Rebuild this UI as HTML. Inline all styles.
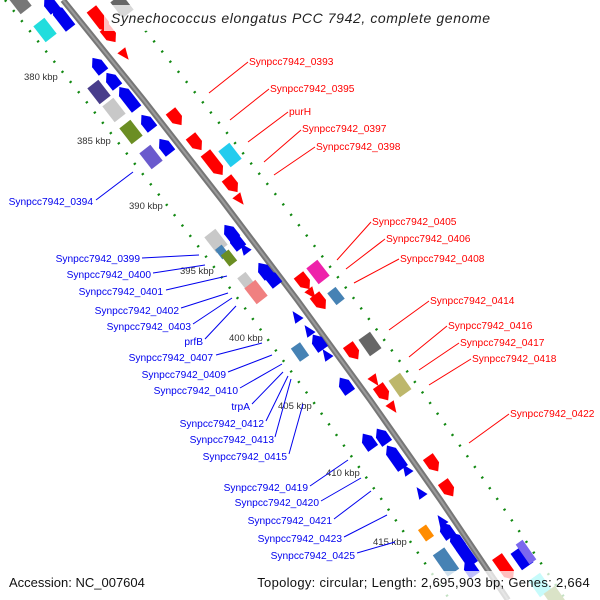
<!DOCTYPE html>
<html><head><meta charset="utf-8"><style>
html,body{margin:0;padding:0;background:#fff}
svg{display:block}
text{font-family:"Liberation Sans","DejaVu Sans",sans-serif}
</style></head><body>
<svg width="600" height="600" viewBox="0 0 600 600" xmlns="http://www.w3.org/2000/svg">
<defs>
<polygon id="fL" points="-14,-6 7,-6 14,0 7,6 -14,6"/>
<polygon id="fS" points="-9,-6 2,-6 9,0 2,6 -9,6"/>
<polygon id="rL" points="14,-6 -7,-6 -14,0 -7,6 14,6"/>
<polygon id="rS" points="9,-6 -2,-6 -9,0 -2,6 9,6"/>
<rect id="bx" x="-10" y="-7" width="20" height="14"/>
<polygon id="tF" points="-6,-5 6,0 -6,5"/>
<polygon id="tR" points="6,-5 -6,0 6,5"/>
</defs>
<g fill="none" stroke="#118811" stroke-width="2.5" stroke-dasharray="2 11">
<polyline points="5,0 85,100 163,200 239,300 312,400 382,500 450,600"/>
<polyline points="121,0 201,100 280,200 355,300 428,400 498,500 566,600"/>
</g>
<polyline points="63,0 143.7,100 221.8,200 297.3,300 370.2,400 440.5,500 508,600" fill="none" stroke="#777" stroke-width="6"/>
<polyline points="63,0 143.7,100 221.8,200 297.3,300 370.2,400 440.5,500 508,600" fill="none" stroke="#9a9a9a" stroke-width="2"/>

<g stroke="none">
<g transform="translate(20,2) rotate(52)"><use href="#bx" fill="#777"/></g>
<g transform="translate(50,4) rotate(52)"><use href="#rS" fill="#0000ee"/></g>
<g transform="translate(45,30) rotate(52)"><use href="#bx" fill="#22dddd"/></g>
<g transform="translate(62,17) rotate(52)"><use href="#rL" fill="#0000ee"/></g>
<g transform="translate(98,65) rotate(52)"><use href="#rS" fill="#0000ee"/></g>
<g transform="translate(112,80) rotate(52)"><use href="#rS" fill="#0000ee"/></g>
<g transform="translate(99,92) rotate(52)"><use href="#bx" fill="#483d8b"/></g>
<g transform="translate(128,98) rotate(52)"><use href="#rL" fill="#0000ee"/></g>
<g transform="translate(114,110) rotate(52)"><use href="#bx" fill="#c8c8c8"/></g>
<g transform="translate(147,122) rotate(52)"><use href="#rS" fill="#0000ee"/></g>
<g transform="translate(131,132) rotate(52)"><use href="#bx" fill="#6b8e23"/></g>
<g transform="translate(165,146) rotate(52)"><use href="#rS" fill="#0000ee"/></g>
<g transform="translate(151,157) rotate(52)"><use href="#bx" fill="#6a5acd"/></g>
<g transform="translate(216,241) rotate(52)"><use href="#bx" fill="#c8c8c8"/></g>
<g transform="translate(230,232) rotate(52)"><use href="#rS" fill="#0000ee"/></g>
<g transform="translate(236,241) rotate(52)"><use href="#rS" fill="#0000ee"/></g>
<g transform="translate(244,248) rotate(52)"><use href="#tR" fill="#0000ee"/></g>
<g transform="translate(222,252) rotate(52) scale(0.6)"><use href="#bx" fill="#4682b4"/></g>
<g transform="translate(229,258) rotate(52) scale(0.7)"><use href="#bx" fill="#6b8e23"/></g>
<g transform="translate(246,281) rotate(52) scale(0.75)"><use href="#bx" fill="#c8c8c8"/></g>
<g transform="translate(256,292) rotate(52)"><use href="#bx" fill="#f08080"/></g>
<g transform="translate(264,270) rotate(52)"><use href="#rS" fill="#0000ee"/></g>
<g transform="translate(272,278) rotate(52)"><use href="#rS" fill="#0000ee"/></g>
<g transform="translate(296,316) rotate(55)"><use href="#tR" fill="#0000ee"/></g>
<g transform="translate(308,330) rotate(55)"><use href="#tR" fill="#0000ee"/></g>
<g transform="translate(318,342) rotate(55)"><use href="#rS" fill="#0000ee"/></g>
<g transform="translate(326,354) rotate(55)"><use href="#tR" fill="#0000ee"/></g>
<g transform="translate(300,352) rotate(55) scale(0.8)"><use href="#bx" fill="#4682b4"/></g>
<g transform="translate(345,385) rotate(55)"><use href="#rS" fill="#0000ee"/></g>
<g transform="translate(368,441) rotate(55)"><use href="#rS" fill="#0000ee"/></g>
<g transform="translate(382,436) rotate(55)"><use href="#rS" fill="#0000ee"/></g>
<g transform="translate(395,457) rotate(55)"><use href="#rL" fill="#0000ee"/></g>
<g transform="translate(406,469) rotate(55)"><use href="#tR" fill="#0000ee"/></g>
<g transform="translate(420,492) rotate(55)"><use href="#tR" fill="#0000ee"/></g>
<g transform="translate(426,533) rotate(55) scale(0.7)"><use href="#bx" fill="#ff8c00"/></g>
<g transform="translate(441,520) rotate(55)"><use href="#tR" fill="#0000ee"/></g>
<g transform="translate(446,530) rotate(55)"><use href="#rS" fill="#0000ee"/></g>
<g transform="translate(456,540) rotate(55)"><use href="#rS" fill="#0000ee"/></g>
<g transform="translate(465,553) rotate(55)"><use href="#rL" fill="#0000ee"/></g>
<g transform="translate(470,568) rotate(55)"><use href="#rS" fill="#0000ee"/></g>
<g transform="translate(446,562) rotate(55) scale(1.3,1)"><use href="#bx" fill="#4682b4"/></g>
</g>
<g>
<g transform="translate(122,6) rotate(52)"><use href="#bx" fill="#666"/></g>
<g transform="translate(100,20) rotate(52)"><use href="#fL" fill="#ff0000"/></g>
<g transform="translate(110,35) rotate(52)"><use href="#fS" fill="#ff0000"/></g>
<g transform="translate(125,55) rotate(52)"><use href="#tF" fill="#ff0000"/></g>
<g transform="translate(176,118) rotate(52)"><use href="#fS" fill="#ff0000"/></g>
<g transform="translate(196,143) rotate(52)"><use href="#fS" fill="#ff0000"/></g>
<g transform="translate(230,155) rotate(52)"><use href="#bx" fill="#22ccee"/></g>
<g transform="translate(214,164) rotate(52)"><use href="#fL" fill="#ff0000"/></g>
<g transform="translate(232,185) rotate(52)"><use href="#fS" fill="#ff0000"/></g>
<g transform="translate(240,200) rotate(52)"><use href="#tF" fill="#ff0000"/></g>
<g transform="translate(318,272) rotate(52)"><use href="#bx" fill="#ee22aa"/></g>
<g transform="translate(304,282) rotate(52)"><use href="#fS" fill="#ff0000"/></g>
<g transform="translate(312,294) rotate(52)"><use href="#tF" fill="#ff0000"/></g>
<g transform="translate(320,302) rotate(52)"><use href="#fS" fill="#ff0000"/></g>
<g transform="translate(336,296) rotate(52) scale(0.75)"><use href="#bx" fill="#4682b4"/></g>
<g transform="translate(353,352) rotate(55)"><use href="#fS" fill="#ff0000"/></g>
<g transform="translate(370,344) rotate(55)"><use href="#bx" fill="#666"/></g>
<g transform="translate(375,381) rotate(55)"><use href="#tF" fill="#ff0000"/></g>
<g transform="translate(383,393) rotate(55)"><use href="#fS" fill="#ff0000"/></g>
<g transform="translate(400,385) rotate(55)"><use href="#bx" fill="#bdb76b"/></g>
<g transform="translate(393,408) rotate(55)"><use href="#tF" fill="#ff0000"/></g>
<g transform="translate(433,464) rotate(55)"><use href="#fS" fill="#ff0000"/></g>
<g transform="translate(448,489) rotate(55)"><use href="#fS" fill="#ff0000"/></g>
<g transform="translate(505,568) rotate(55)"><use href="#fL" fill="#ff0000"/></g>
<g transform="translate(522,558) rotate(55)"><use href="#bx" fill="#0000ee"/></g>
<g transform="translate(526,552) rotate(55) scale(1.2,0.6)"><use href="#bx" fill="#7b68ee"/></g>
<g transform="translate(540,585) rotate(55)"><use href="#bx" fill="#22eeee"/></g>
<g transform="translate(555,598) rotate(55)"><use href="#bx" fill="#6b8e23"/></g>
</g>

<g font-size="9.5" fill="#333">
<text x="24" y="80">380 kbp</text>
<text x="77" y="144">385 kbp</text>
<text x="129" y="209">390 kbp</text>
<text x="180" y="274">395 kbp</text>
<text x="229" y="341">400 kbp</text>
<text x="278" y="409">405 kbp</text>
<text x="326" y="476">410 kbp</text>
<text x="373" y="545">415 kbp</text>
</g>

<g stroke="#0000ee" stroke-width="1">
<line x1="96" y1="200" x2="133" y2="172"/>
<line x1="142" y1="258" x2="199" y2="255"/>
<line x1="153" y1="273" x2="205" y2="265"/>
<line x1="166" y1="290" x2="227" y2="276"/>
<line x1="181" y1="308" x2="228" y2="293"/>
<line x1="193" y1="324" x2="232" y2="298"/>
<line x1="205" y1="339" x2="236" y2="306"/>
<line x1="216" y1="355" x2="262" y2="343"/>
<line x1="228" y1="372" x2="272" y2="355"/>
<line x1="240" y1="388" x2="282" y2="364"/>
<line x1="252" y1="404" x2="283" y2="372"/>
<line x1="266" y1="421" x2="288" y2="376"/>
<line x1="275" y1="437" x2="291" y2="379"/>
<line x1="289" y1="454" x2="303" y2="404"/>
<line x1="310" y1="486" x2="348" y2="460"/>
<line x1="321" y1="501" x2="361" y2="478"/>
<line x1="334" y1="519" x2="371" y2="491"/>
<line x1="344" y1="537" x2="387" y2="515"/>
<line x1="357" y1="553" x2="395" y2="542"/>
</g>
<g font-size="10.2" fill="#0000ee" text-anchor="end">
<text x="93" y="205">Synpcc7942_0394</text>
<text x="140" y="262">Synpcc7942_0399</text>
<text x="151" y="278">Synpcc7942_0400</text>
<text x="163" y="295">Synpcc7942_0401</text>
<text x="179" y="314">Synpcc7942_0402</text>
<text x="191" y="330">Synpcc7942_0403</text>
<text x="203" y="345">prfB</text>
<text x="213" y="361">Synpcc7942_0407</text>
<text x="226" y="378">Synpcc7942_0409</text>
<text x="238" y="394">Synpcc7942_0410</text>
<text x="250" y="410">trpA</text>
<text x="264" y="427">Synpcc7942_0412</text>
<text x="274" y="443">Synpcc7942_0413</text>
<text x="287" y="460">Synpcc7942_0415</text>
<text x="308" y="491">Synpcc7942_0419</text>
<text x="319" y="506">Synpcc7942_0420</text>
<text x="332" y="524">Synpcc7942_0421</text>
<text x="342" y="542">Synpcc7942_0423</text>
<text x="355" y="559">Synpcc7942_0425</text>
</g>

<g stroke="#ff0000" stroke-width="1">
<line x1="209" y1="93" x2="248" y2="62"/>
<line x1="230" y1="120" x2="269" y2="89"/>
<line x1="248" y1="142" x2="288" y2="112"/>
<line x1="264" y1="162" x2="301" y2="130"/>
<line x1="274" y1="175" x2="315" y2="147"/>
<line x1="337" y1="260" x2="371" y2="222"/>
<line x1="346" y1="269" x2="385" y2="239"/>
<line x1="354" y1="283" x2="399" y2="259"/>
<line x1="389" y1="330" x2="429" y2="301"/>
<line x1="409" y1="357" x2="447" y2="326"/>
<line x1="419" y1="370" x2="459" y2="343"/>
<line x1="429" y1="385" x2="471" y2="359"/>
<line x1="469" y1="443" x2="509" y2="414"/>
</g>
<g font-size="10.2" fill="#ff0000">
<text x="249" y="65">Synpcc7942_0393</text>
<text x="270" y="92">Synpcc7942_0395</text>
<text x="289" y="115">purH</text>
<text x="302" y="132">Synpcc7942_0397</text>
<text x="316" y="150">Synpcc7942_0398</text>
<text x="372" y="225">Synpcc7942_0405</text>
<text x="386" y="242">Synpcc7942_0406</text>
<text x="400" y="262">Synpcc7942_0408</text>
<text x="430" y="304">Synpcc7942_0414</text>
<text x="448" y="329">Synpcc7942_0416</text>
<text x="460" y="346">Synpcc7942_0417</text>
<text x="472" y="362">Synpcc7942_0418</text>
<text x="510" y="417">Synpcc7942_0422</text>
</g>

<rect x="104" y="5" width="392" height="26" fill="#fff" fill-opacity="0.75"/>
<text x="111" y="23" font-size="14" font-style="italic" fill="#222" letter-spacing="0.6">Synechococcus elongatus PCC 7942, complete genome</text>
<rect x="0" y="571" width="600" height="29" fill="#fff" fill-opacity="0.75"/>
<text x="9" y="587" font-size="13" fill="#111">Accession: NC_007604</text>
<text x="590" y="587" font-size="13" fill="#111" text-anchor="end" letter-spacing="0.3">Topology: circular; Length: 2,695,903 bp; Genes: 2,664</text>
</svg>
</body></html>
